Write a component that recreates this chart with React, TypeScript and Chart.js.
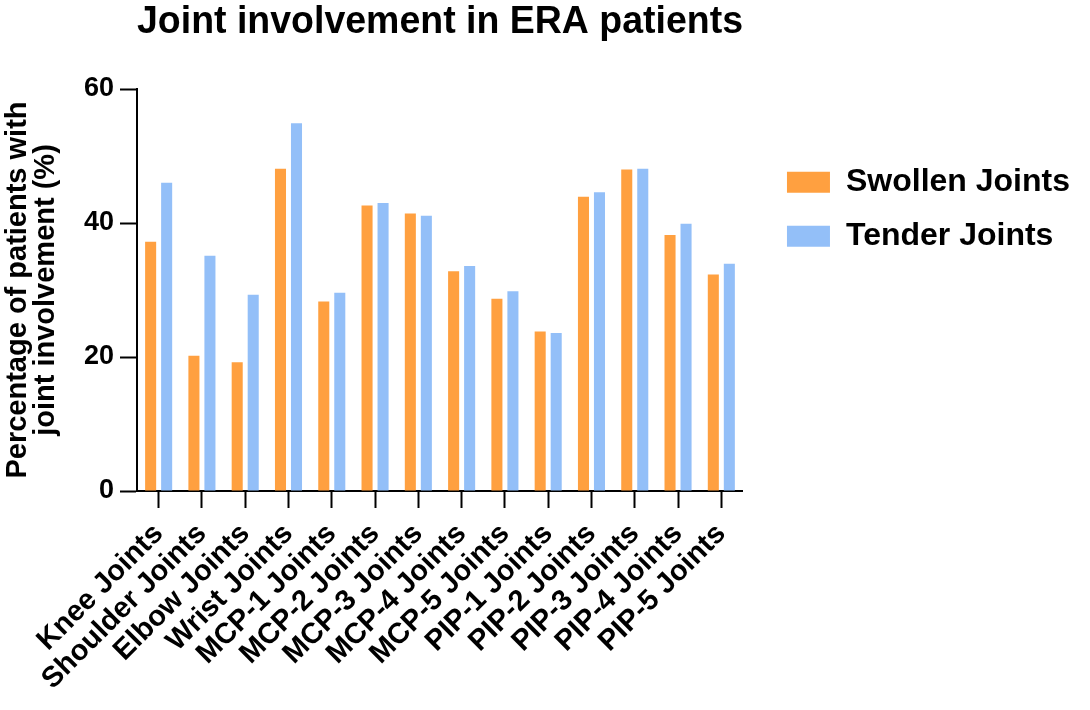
import React, { useEffect, useRef } from "react";
import { Chart, registerables } from "chart.js";

Chart.register(...registerables);

const categories = [
  "Knee Joints",
  "Shoulder Joints",
  "Elbow Joints",
  "Wrist Joints",
  "MCP-1 Joints",
  "MCP-2 Joints",
  "MCP-3 Joints",
  "MCP-4 Joints",
  "MCP-5 Joints",
  "PIP-1 Joints",
  "PIP-2 Joints",
  "PIP-3 Joints",
  "PIP-4 Joints",
  "PIP-5 Joints",
];
const swollen = [37.2, 20.2, 19.2, 48.1, 28.3, 42.6, 41.4, 32.8, 28.7, 23.8, 43.9, 48.0, 38.2, 32.3];
const tender = [46.0, 35.1, 29.3, 54.9, 29.6, 43.0, 41.1, 33.6, 29.8, 23.6, 44.6, 48.1, 39.9, 33.9];
const yTicks = [0, 20, 40, 60];
const seriesNames = ["Swollen Joints", "Tender Joints"];
const titleText = "Joint involvement in ERA patients";
const yTitle = ["Percentage of patients with", "joint involvement (%)"];

const FONT = "'Liberation Sans', Arial, Helvetica, sans-serif";

export default function App() {
  const ref = useRef<HTMLCanvasElement | null>(null);
  useEffect(() => {
    document.body.style.margin = "0";
    const canvas = ref.current;
    if (!canvas) return;
    const chart = new Chart(canvas, {
      type: "bar",
      data: {
        labels: categories,
        datasets: [
          {
            label: seriesNames[0],
            data: swollen,
            backgroundColor: "#FFA040",
            borderWidth: 0,
            categoryPercentage: 0.74,
            barPercentage: 0.69,
          },
          {
            label: seriesNames[1],
            data: tender,
            backgroundColor: "#93BFF8",
            borderWidth: 0,
            categoryPercentage: 0.74,
            barPercentage: 0.69,
          },
        ],
      },
      options: {
        responsive: false,
        animation: false,
        devicePixelRatio: 1,
        layout: { padding: { left: 3, right: 10, top: 0, bottom: 0 } },
        plugins: {
          title: {
            display: true,
            text: titleText,
            fullSize: false,
            color: "#000",
            font: { family: FONT, size: 38, weight: "bold" },
            padding: { top: 0, bottom: 43.4 },
          },
          legend: {
            position: "right",
            align: "start",
            maxWidth: 400,
            title: {
              display: true,
              text: " ",
              font: { size: 1 },
              padding: { top: 143, bottom: 0 },
            },
            labels: {
              boxWidth: 43,
              boxHeight: 21,
              padding: 22,
              color: "#000",
              font: { family: FONT, size: 32, weight: "bold" },
            },
          },
          tooltip: { enabled: false },
        },
        scales: {
          x: {
            offset: true,
            grid: {
              display: true,
              drawOnChartArea: false,
              offset: false,
              tickLength: 17,
              tickWidth: 2,
              tickColor: "#000",
            },
            border: { color: "#000", width: 2 },
            ticks: {
              autoSkip: false,
              maxRotation: 45,
              minRotation: 45,
              color: "#000",
              padding: 9,
              font: { family: FONT, size: 29, weight: "bold" },
            },
            afterFit: (scale: any) => {
              scale.height = 219;
            },
          },
          y: {
            min: 0,
            max: 60,
            afterBuildTicks: (scale: any) => {
              scale.ticks = yTicks.map((v) => ({ value: v }));
            },
            grid: {
              display: true,
              drawOnChartArea: false,
              tickLength: 17,
              tickWidth: 2,
              tickColor: "#000",
            },
            border: { color: "#000", width: 2 },
            ticks: {
              color: "#000",
              padding: 6,
              font: { family: FONT, size: 27, weight: "bold" },
            },
            title: {
              display: true,
              text: yTitle,
              color: "#000",
              font: { family: FONT, size: 29, weight: "bold", lineHeight: 0.97 },
              padding: { top: 1, bottom: 0 },
            },
            afterFit: (scale: any) => {
              scale.width = 134;
            },
          },
          y2: {
            position: "right",
            display: true,
            grid: { display: false, drawTicks: false },
            border: { display: false },
            ticks: { display: false },
            afterFit: (scale: any) => {
              scale.width = 22;
            },
          },
        },
      },
    });
    return () => chart.destroy();
  }, []);
  return (
    <div style={{ width: 1090, height: 710 }}>
      <canvas ref={ref} width={1090} height={710} />
    </div>
  );
}
